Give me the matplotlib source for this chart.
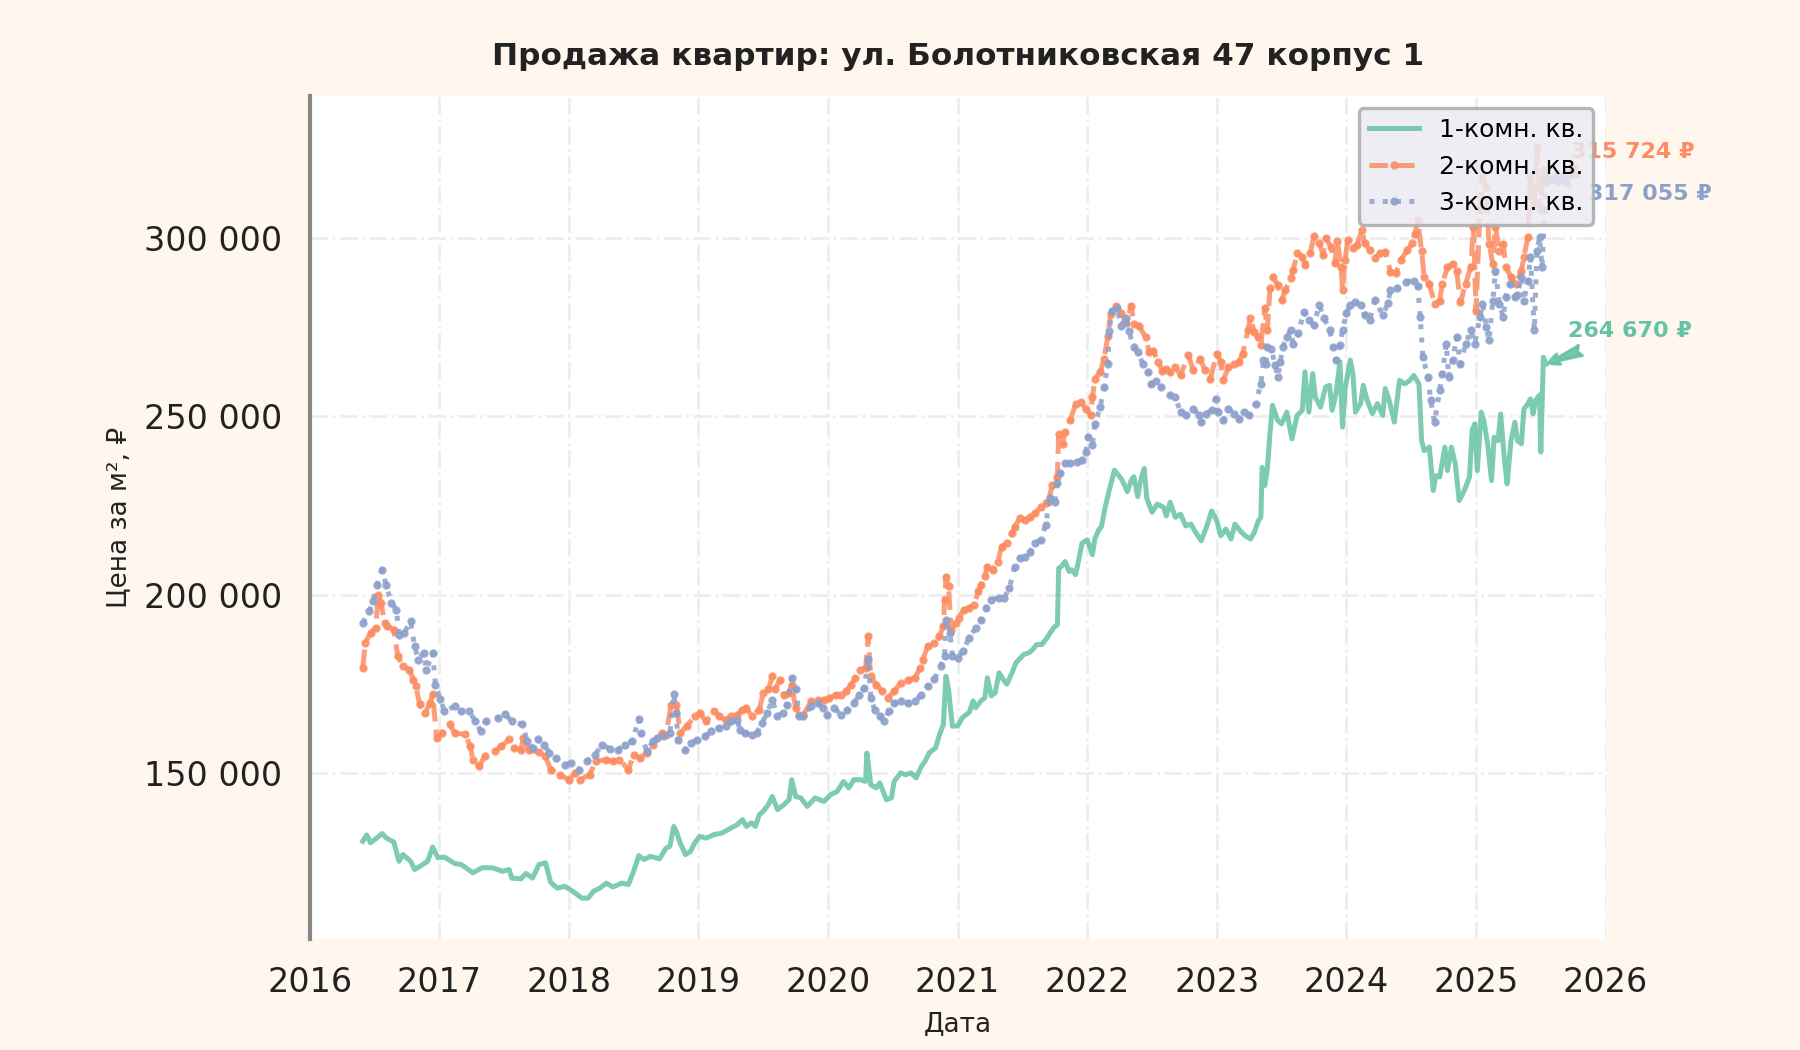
import matplotlib
matplotlib.use("Agg")
import matplotlib.pyplot as plt
import matplotlib.ticker as mticker

title = "Продажа квартир: ул. Болотниковская 47 корпус 1"
series_labels = ["1-комн. кв.", "2-комн. кв.", "3-комн. кв."]
series_colors = ["#66c2a5", "#fc8d62", "#8da0cb"]

# 1-комн.: дата (доля года) и цена за м²
years_1 = [
    2016.41, 2016.44, 2016.47, 2016.51, 2016.56, 2016.59, 2016.65, 2016.69, 2016.72, 2016.78,
    2016.81, 2016.86, 2016.91, 2016.95, 2016.99, 2017.04, 2017.12, 2017.17, 2017.26, 2017.33,
    2017.41, 2017.49, 2017.54, 2017.56, 2017.63, 2017.67, 2017.72, 2017.77, 2017.82, 2017.86,
    2017.91, 2017.97, 2018.03, 2018.10, 2018.15, 2018.19, 2018.24, 2018.29, 2018.34, 2018.41,
    2018.46, 2018.50, 2018.54, 2018.58, 2018.63, 2018.70, 2018.75, 2018.78, 2018.81, 2018.83,
    2018.86, 2018.90, 2018.94, 2018.97, 2019.01, 2019.06, 2019.12, 2019.18, 2019.25, 2019.30,
    2019.34, 2019.37, 2019.41, 2019.44, 2019.47, 2019.50, 2019.54, 2019.57, 2019.61, 2019.66,
    2019.70, 2019.72, 2019.75, 2019.79, 2019.84, 2019.90, 2019.97, 2020.02, 2020.07, 2020.12,
    2020.16, 2020.20, 2020.25, 2020.29, 2020.30, 2020.33, 2020.37, 2020.40, 2020.45, 2020.49,
    2020.51, 2020.56, 2020.60, 2020.64, 2020.68, 2020.72, 2020.75, 2020.78, 2020.83, 2020.86,
    2020.89, 2020.91, 2020.93, 2020.96, 2021.00, 2021.04, 2021.09, 2021.12, 2021.14, 2021.18,
    2021.21, 2021.23, 2021.26, 2021.29, 2021.32, 2021.35, 2021.38, 2021.42, 2021.45, 2021.51,
    2021.55, 2021.58, 2021.61, 2021.65, 2021.69, 2021.74, 2021.77, 2021.78, 2021.80, 2021.83,
    2021.86, 2021.88, 2021.91, 2021.94, 2021.96, 2022.00, 2022.04, 2022.06, 2022.09, 2022.11,
    2022.14, 2022.17, 2022.21, 2022.25, 2022.27, 2022.31, 2022.34, 2022.36, 2022.39, 2022.41,
    2022.44, 2022.46, 2022.50, 2022.54, 2022.59, 2022.61, 2022.64, 2022.68, 2022.72, 2022.76,
    2022.80, 2022.83, 2022.88, 2022.92, 2022.96, 2023.00, 2023.03, 2023.07, 2023.11, 2023.14,
    2023.18, 2023.22, 2023.26, 2023.29, 2023.32, 2023.34, 2023.35, 2023.37, 2023.39, 2023.41,
    2023.43, 2023.47, 2023.50, 2023.54, 2023.58, 2023.62, 2023.66, 2023.68, 2023.71, 2023.74,
    2023.76, 2023.80, 2023.84, 2023.87, 2023.89, 2023.92, 2023.95, 2023.97, 2023.99, 2024.03,
    2024.05, 2024.07, 2024.11, 2024.13, 2024.16, 2024.20, 2024.24, 2024.28, 2024.30, 2024.33,
    2024.37, 2024.41, 2024.45, 2024.49, 2024.52, 2024.56, 2024.58, 2024.60, 2024.64, 2024.67,
    2024.69, 2024.72, 2024.76, 2024.78, 2024.81, 2024.84, 2024.87, 2024.91, 2024.95, 2024.97,
    2024.99, 2025.01, 2025.04, 2025.06, 2025.09, 2025.12, 2025.14, 2025.17, 2025.19, 2025.22,
    2025.24, 2025.27, 2025.30, 2025.32, 2025.35, 2025.37, 2025.40, 2025.42, 2025.44, 2025.46,
    2025.49, 2025.50, 2025.52, 2025.54,
]
price_1 = [
    130800, 132600, 130400, 131500, 133000, 131800, 130600, 125200, 127100, 125200,
    122900, 124000, 125200, 129200, 126200, 126400, 124600, 124300, 122000, 123400,
    123400, 122400, 122900, 120500, 120300, 121800, 120500, 124300, 124800, 119300,
    117700, 118200, 116800, 114900, 114900, 116800, 117700, 119100, 118000, 119100,
    118700, 122400, 126800, 125700, 126600, 125900, 128900, 129400, 135000, 133600,
    130300, 127100, 128000, 130300, 132200, 131700, 132700, 133100, 134500, 135500,
    136900, 135000, 136000, 135000, 138300, 139200, 141100, 143400, 139700, 141100,
    142500, 148100, 143400, 143000, 140600, 143000, 142000, 143900, 144800, 147600,
    145800, 148100, 148100, 147600, 155600, 146700, 145800, 147200, 142500, 143000,
    147600, 150000, 149500, 150000, 148600, 151800, 153300, 155600, 157000, 160700,
    163500, 177100, 173400, 163100, 163200, 165600, 167000, 170200, 168300, 170200,
    171100, 176700, 171600, 172500, 178100, 176300, 174900, 178100, 180900, 183200,
    183700, 184600, 186000, 186000, 187900, 190700, 191600, 207400, 207900, 209300,
    206500, 207000, 205600, 210700, 214400, 215400, 211200, 215800, 218200, 219100,
    224700, 229300, 234900, 233100, 232100, 228900, 232100, 233100, 227500, 231700,
    235400, 227000, 223100, 225400, 224500, 222100, 225900, 221700, 222600, 219300,
    219800, 217900, 215100, 218900, 223500, 220700, 216500, 218400, 215600, 219800,
    217900, 216500, 215600, 217500, 220700, 221700, 235700, 230600, 235300, 245100,
    253100, 248900, 247900, 251200, 243700, 250300, 251700, 262500, 251200, 262000,
    255400, 252600, 258300, 258700, 251700, 256400, 265300, 247000, 257800, 265800,
    262000, 251200, 253600, 258700, 254500, 250800, 253600, 250300, 257800, 254500,
    248400, 260100, 259100, 260100, 261500, 259100, 243200, 240400, 241400, 229200,
    233400, 233000, 241400, 234800, 241400, 236700, 226400, 229200, 233000, 246100,
    247900, 234800, 251200, 248900, 242300, 232000, 244200, 243200, 250700, 237600,
    231100, 243200, 248400, 243200, 242300, 252100, 253500, 254900, 250700, 254500,
    256000, 240000, 266600, 264670,
]

# 2-комн.
years_2 = [
    2016.41, 2016.43, 2016.47, 2016.51, 2016.53, 2016.55, 2016.58, 2016.60, 2016.65, 2016.68,
    2016.72, 2016.77, 2016.80, 2016.82, 2016.85, 2016.89, 2016.93, 2016.95, 2016.98, 2017.02,
    2017.08, 2017.12, 2017.20, 2017.24, 2017.26, 2017.31, 2017.35, 2017.43, 2017.48, 2017.54,
    2017.58, 2017.63, 2017.65, 2017.69, 2017.77, 2017.82, 2017.86, 2017.93, 2018.00, 2018.05,
    2018.09, 2018.16, 2018.21, 2018.29, 2018.34, 2018.39, 2018.46, 2018.50, 2018.55, 2018.60,
    2018.65, 2018.72, 2018.75, 2018.79, 2018.83, 2018.86, 2018.91, 2018.97, 2019.01, 2019.06,
    2019.12, 2019.16, 2019.21, 2019.25, 2019.30, 2019.34, 2019.37, 2019.41, 2019.47, 2019.50,
    2019.54, 2019.57, 2019.59, 2019.63, 2019.66, 2019.70, 2019.72, 2019.75, 2019.78, 2019.81,
    2019.87, 2019.92, 2019.97, 2020.01, 2020.06, 2020.10, 2020.14, 2020.18, 2020.21, 2020.25,
    2020.29, 2020.31, 2020.33, 2020.37, 2020.42, 2020.46, 2020.51, 2020.56, 2020.62, 2020.67,
    2020.71, 2020.73, 2020.77, 2020.82, 2020.86, 2020.89, 2020.90, 2020.91, 2020.93, 2020.95,
    2020.99, 2021.01, 2021.05, 2021.09, 2021.13, 2021.16, 2021.18, 2021.21, 2021.23, 2021.27,
    2021.31, 2021.34, 2021.38, 2021.42, 2021.44, 2021.48, 2021.52, 2021.56, 2021.60, 2021.64,
    2021.68, 2021.70, 2021.73, 2021.77, 2021.78, 2021.81, 2021.83, 2021.87, 2021.91, 2021.95,
    2021.99, 2022.03, 2022.04, 2022.06, 2022.10, 2022.13, 2022.16, 2022.18, 2022.22, 2022.26,
    2022.30, 2022.34, 2022.36, 2022.40, 2022.45, 2022.48, 2022.51, 2022.55, 2022.58, 2022.61,
    2022.64, 2022.68, 2022.72, 2022.78, 2022.82, 2022.87, 2022.91, 2022.95, 2023.00, 2023.03,
    2023.05, 2023.09, 2023.13, 2023.17, 2023.20, 2023.24, 2023.26, 2023.29, 2023.32, 2023.34,
    2023.37, 2023.39, 2023.41, 2023.43, 2023.47, 2023.50, 2023.53, 2023.57, 2023.59, 2023.62,
    2023.66, 2023.68, 2023.72, 2023.75, 2023.79, 2023.82, 2023.84, 2023.88, 2023.91, 2023.93,
    2023.96, 2023.97, 2023.99, 2024.01, 2024.05, 2024.08, 2024.12, 2024.14, 2024.18, 2024.22,
    2024.26, 2024.30, 2024.34, 2024.38, 2024.42, 2024.47, 2024.51, 2024.53, 2024.55, 2024.58,
    2024.60, 2024.64, 2024.68, 2024.72, 2024.74, 2024.78, 2024.82, 2024.85, 2024.88, 2024.92,
    2024.96, 2024.98, 2025.00, 2025.03, 2025.05, 2025.08, 2025.10, 2025.13, 2025.15, 2025.18,
    2025.21, 2025.23, 2025.27, 2025.31, 2025.35, 2025.37, 2025.40, 2025.42, 2025.45, 2025.47,
    2025.50, 2025.52, 2025.54,
]
price_2 = [
    179450, 186500, 189300, 190700, 200000, 197700, 192100, 191100, 190200, 182700,
    179900, 179000, 176200, 174300, 169200, 166800, 169600, 172000, 159800, 161200,
    163600, 161200, 160800, 157500, 153700, 151900, 154700, 156100, 157500, 159400,
    157000, 156500, 159800, 156500, 155800, 154700, 150900, 149500, 148100, 150000,
    148100, 149500, 153300, 153700, 153300, 153700, 150900, 155100, 154200, 155600,
    157900, 161200, 160700, 169100, 169100, 161200, 163100, 165900, 166800, 164500,
    167300, 165900, 164900, 165900, 166300, 167700, 168200, 165900, 167700, 172400,
    173400, 177100, 173400, 176200, 171900, 172400, 174800, 168200, 166300, 166300,
    170100, 170500, 170500, 171000, 171900, 171900, 172900, 174800, 176600, 179000,
    179400, 188300, 177100, 174800, 172900, 171000, 172900, 175200, 176200, 176600,
    179400, 181800, 185500, 186400, 188300, 191100, 198600, 205000, 202300, 190200,
    192100, 193500, 195800, 196300, 197200, 200900, 202800, 205100, 207900, 207000,
    209300, 213500, 214400, 217200, 219100, 221400, 220900, 221900, 222800, 224700,
    225600, 226100, 230700, 233000, 245200, 242400, 245600, 248900, 253500, 254000,
    252100, 250300, 255400, 260500, 262400, 266100, 272600, 278700, 281000, 279100,
    276300, 281000, 275900, 275400, 272200, 268000, 268400, 265200, 262800, 263400,
    262500, 263900, 261500, 267200, 262900, 266200, 262900, 260600, 267600, 265300,
    260100, 263900, 264800, 265300, 267600, 274200, 277500, 273700, 272300, 270000,
    280300, 274200, 285900, 289200, 286900, 282600, 285500, 288700, 291100, 295800,
    294800, 292500, 295800, 300500, 298600, 295300, 300000, 297600, 293000, 299100,
    292000, 285500, 293900, 299500, 297200, 298100, 302300, 298600, 296700, 294400,
    295800, 296200, 290600, 290100, 293900, 296700, 298600, 301200, 305000, 296500,
    289100, 287200, 281600, 282500, 287200, 291900, 292800, 290900, 282000, 287200,
    291900, 303100, 279700, 307800, 317100, 314300, 298400, 292800, 303100, 296500,
    298400, 291900, 289100, 287200, 290900, 294700, 300300, 317100, 309600, 325500,
    307800, 319000, 315724,
]

# 3-комн.
years_3 = [
    2016.41, 2016.46, 2016.49, 2016.52, 2016.56, 2016.59, 2016.63, 2016.67, 2016.69, 2016.73,
    2016.78, 2016.81, 2016.84, 2016.88, 2016.90, 2016.95, 2016.97, 2017.01, 2017.04, 2017.12,
    2017.17, 2017.23, 2017.28, 2017.32, 2017.36, 2017.45, 2017.51, 2017.56, 2017.64, 2017.68,
    2017.72, 2017.76, 2017.81, 2017.85, 2017.90, 2017.97, 2018.02, 2018.08, 2018.14, 2018.20,
    2018.26, 2018.32, 2018.38, 2018.43, 2018.49, 2018.54, 2018.56, 2018.60, 2018.65, 2018.68,
    2018.73, 2018.78, 2018.81, 2018.83, 2018.84, 2018.90, 2018.94, 2018.99, 2019.05, 2019.10,
    2019.16, 2019.21, 2019.25, 2019.30, 2019.32, 2019.36, 2019.41, 2019.45, 2019.49, 2019.53,
    2019.57, 2019.61, 2019.65, 2019.68, 2019.72, 2019.75, 2019.78, 2019.81, 2019.87, 2019.92,
    2019.96, 2019.99, 2020.05, 2020.10, 2020.15, 2020.20, 2020.24, 2020.28, 2020.31, 2020.33,
    2020.36, 2020.40, 2020.43, 2020.47, 2020.51, 2020.56, 2020.62, 2020.67, 2020.72, 2020.77,
    2020.82, 2020.87, 2020.90, 2020.91, 2020.94, 2020.96, 2021.00, 2021.04, 2021.09, 2021.14,
    2021.18, 2021.22, 2021.26, 2021.32, 2021.36, 2021.40, 2021.44, 2021.48, 2021.52, 2021.56,
    2021.60, 2021.64, 2021.68, 2021.71, 2021.75, 2021.77, 2021.79, 2021.83, 2021.87, 2021.92,
    2021.96, 2021.99, 2022.01, 2022.04, 2022.06, 2022.10, 2022.13, 2022.16, 2022.17, 2022.19,
    2022.23, 2022.26, 2022.30, 2022.32, 2022.36, 2022.39, 2022.43, 2022.47, 2022.49, 2022.53,
    2022.57, 2022.64, 2022.68, 2022.72, 2022.76, 2022.82, 2022.86, 2022.88, 2022.92, 2022.96,
    2022.99, 2023.01, 2023.05, 2023.09, 2023.13, 2023.17, 2023.21, 2023.25, 2023.30, 2023.34,
    2023.36, 2023.38, 2023.39, 2023.42, 2023.45, 2023.47, 2023.49, 2023.51, 2023.54, 2023.57,
    2023.59, 2023.63, 2023.67, 2023.71, 2023.75, 2023.79, 2023.83, 2023.87, 2023.90, 2023.92,
    2023.95, 2023.97, 2024.00, 2024.03, 2024.07, 2024.11, 2024.14, 2024.18, 2024.22, 2024.28,
    2024.32, 2024.34, 2024.39, 2024.46, 2024.52, 2024.55, 2024.57, 2024.59, 2024.63, 2024.65,
    2024.68, 2024.72, 2024.74, 2024.77, 2024.79, 2024.82, 2024.85, 2024.88, 2024.92, 2024.96,
    2024.99, 2025.03, 2025.05, 2025.08, 2025.10, 2025.13, 2025.15, 2025.18, 2025.21, 2025.23,
    2025.26, 2025.30, 2025.32, 2025.35, 2025.37, 2025.40, 2025.42, 2025.45, 2025.47, 2025.49,
    2025.51, 2025.53, 2025.54,
]
price_3 = [
    192100, 195300, 198200, 202800, 207000, 202800, 197700, 195800, 188800, 189300,
    192500, 185500, 181800, 183700, 179000, 183700, 174800, 170600, 167300, 168700,
    167300, 167300, 164500, 161700, 164500, 165400, 166400, 164500, 163600, 158900,
    157000, 159400, 157900, 155600, 154200, 152300, 152800, 150900, 153300, 155100,
    157900, 156700, 156500, 157900, 158900, 165100, 161200, 156100, 158900, 159800,
    160300, 161200, 172000, 166800, 159300, 156500, 158400, 159300, 160300, 161700,
    162600, 163100, 164500, 164900, 162100, 161200, 160700, 161200, 164000, 166800,
    170500, 165900, 166800, 169100, 176600, 173400, 165900, 165900, 168700, 169600,
    168200, 166300, 168200, 166300, 167700, 169600, 171900, 173800, 182000, 171000,
    167700, 165900, 164500, 167300, 169600, 170100, 169600, 170100, 171900, 174400,
    176300, 180000, 182800, 193000, 189300, 182800, 182300, 184200, 187900, 190700,
    193000, 196300, 198600, 199100, 199100, 201900, 207900, 210200, 210700, 212100,
    214400, 215400, 219600, 227000, 226100, 231200, 234000, 236800, 236800, 237200,
    237700, 240000, 244200, 241900, 248000, 252600, 258200, 264700, 274000, 279600,
    280500, 275400, 277700, 274000, 269400, 268000, 264700, 262400, 259100, 260000,
    258200, 255900, 255400, 251200, 250300, 252200, 250300, 248400, 250800, 251700,
    255000, 251200, 248900, 252200, 250800, 249300, 251200, 250300, 253600, 259200,
    265800, 264800, 269500, 269000, 264400, 261100, 265300, 269500, 272300, 274200,
    270400, 273300, 279400, 277000, 275600, 281200, 277500, 274200, 269500, 265800,
    270000, 274200, 278900, 281200, 282200, 281200, 278400, 277000, 282600, 278400,
    281700, 285500, 285900, 287800, 288100, 286700, 277800, 266600, 261000, 254500,
    248400, 257300, 261900, 270400, 261000, 265700, 272200, 264700, 270400, 274100,
    270400, 277800, 281600, 275000, 271300, 282500, 290900, 281600, 277800, 283500,
    287200, 283500, 284000, 289100, 282500, 288100, 294700, 274100, 296500, 300300,
    291900, 307800, 317055,
]

year_ticks = list(range(2016, 2027))
price_ticks = [150000, 200000, 250000, 300000]

plt.rcParams['font.family'] = ['DejaVu Sans']

fig, ax = plt.subplots(figsize=(9, 5.25), dpi=200)
fig.patch.set_facecolor('#fff7ee')
ax.set_facecolor('white')
fig.subplots_adjust(left=0.172, right=0.892, top=0.909, bottom=0.106)

series = [(years_1, price_1), (years_2, price_2), (years_3, price_3)]
styles = [dict(linestyle='-', marker=None),
          dict(linestyle='--', marker='.', markersize=4),
          dict(linestyle=':', marker='.', markersize=4)]

for (xs, ys), lab, col, st in zip(series, series_labels, series_colors, styles):
    ax.plot(xs, ys, color=col, lw=1.8, alpha=0.85, label=lab, **st)

# подписи последних значений
offsets = [(8, 12), (9, 11), (15, -6)]
for (xs, ys), col, off in zip(series, series_colors, offsets):
    txt = f"{ys[-1]:,.0f} ₽".replace(",", " ")
    ax.annotate(txt, xy=(xs[-1], ys[-1]), xytext=off, textcoords='offset points',
                ha='left', va='center', fontsize=8, fontweight='bold', color=col,
                arrowprops=dict(arrowstyle='fancy', color=col, alpha=0.9,
                                mutation_scale=10, shrinkA=4, shrinkB=1))

ax.set_xlim(2016, 2026)
ax.set_ylim(103500, 340000)
ax.set_xticks(year_ticks)
ax.set_xticklabels([str(y) for y in year_ticks])
ax.set_yticks(price_ticks)
ax.yaxis.set_major_formatter(mticker.FuncFormatter(lambda v, p: f"{v:,.0f}".replace(",", " ")))
ax.tick_params(length=0, pad=10, labelsize=12, colors='#222222')

ax.grid(True, linestyle='-.', color='#eeeeee', lw=1.0)
ax.set_axisbelow(True)
for side in ['top', 'right', 'bottom']:
    ax.spines[side].set_visible(False)
ax.spines['left'].set_color('#888888')
ax.spines['left'].set_linewidth(1.5)

ax.set_title(title, fontsize=11.2, fontweight='bold', color='#222222', pad=11)
ax.set_xlabel("Дата", fontsize=9.5, color='#222222')
ax.set_ylabel("Цена за м², ₽", fontsize=9.5, color='#222222')

leg = ax.legend(loc='upper right', fontsize=9, facecolor='#eaeaf2', edgecolor='#aaaaaa',
                framealpha=0.85, fancybox=True)
leg.get_frame().set_linewidth(1.2)

fig.savefig('out.png', dpi=200, facecolor=fig.get_facecolor())
